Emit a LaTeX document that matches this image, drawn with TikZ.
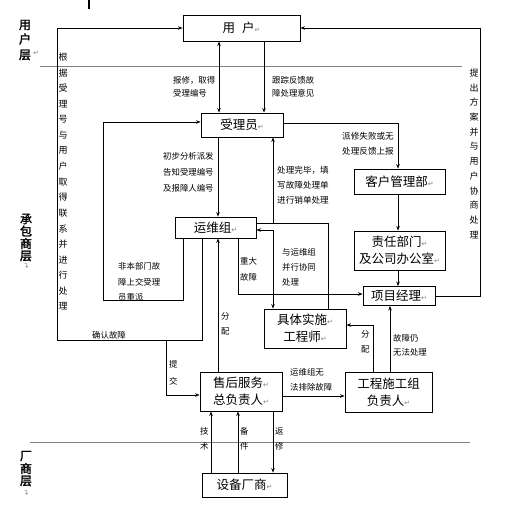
\documentclass[tikz,border=0pt]{standalone}
\usepackage{fontspec}
\setmainfont{Noto Sans CJK SC}[AutoFakeBold=2]
\newfontfamily\dvfont{DejaVu Sans}
\usetikzlibrary{arrows.meta}
\newcommand\pmk{{\dvfont\color{gray}\fontsize{7}{7}\selectfont ↵}}
\tikzset{
 box/.style={draw, line width=0.9pt, inner sep=0pt, font=\fontsize{12.5}{17}\selectfont, align=center},
 lbl/.style={inner sep=0pt, anchor=north west, align=left},
 conn/.style={line width=0.9pt, -{Stealth[length=4.5pt,width=3.5pt]}},
 connb/.style={line width=0.9pt, {Stealth[length=4.5pt,width=3.5pt]}-{Stealth[length=4.5pt,width=3.5pt]}},
 plainline/.style={line width=0.9pt},
 sepline/.style={gray, line width=0.9pt},
 vch/.style={inner sep=0pt, font=\fontsize{9}{9}\selectfont},
 layer/.style={inner sep=0pt, font=\bfseries\fontsize{12}{12}\selectfont},
 pmnode/.style={inner sep=0pt, text=gray, font=\dvfont\fontsize{7}{7}\selectfont},
}
\begin{document}
\begin{tikzpicture}[x=1pt,y=-1pt]
\useasboundingbox (0,0) rectangle (510,511);
% helper coordinates
\foreach \xx in {57,103,166,183,202,211,218,219,238,264,273,328,373,390,398,480}
  \coordinate (x\xx) at (\xx,0);
\foreach \yy in {122,123,223,230,294,300,325,340,395,396}
  \coordinate (y\yy) at (0,\yy);

% top tick and separator lines
\draw[line width=2pt] (89,0) -- (89,9);
\draw[sepline] (40,66) -- (462,66);
\draw[sepline] (30,442) -- (470,442);

% layer labels
\node[layer] (l1a) at (25,25) {用};
\node[layer] (l1b) at (25,39) {户};
\node[layer] (l1c) at (25,55) {层};
\node[pmnode] (l1d) at (36,53) {↵};
\node[layer] (l2a) at (26,219) {承};
\node[layer] (l2b) at (26,231) {包};
\node[layer] (l2c) at (26,243.5) {商};
\node[layer] (l2d) at (26,256) {层};
\node[pmnode, rotate=90] (l2e) at (27,266) {↵};
\node[layer] (l3a) at (26,456) {厂};
\node[layer] (l3b) at (26,468.5) {商};
\node[layer] (l3c) at (26,481) {层};
\node[pmnode, rotate=90] (l3d) at (27,493) {↵};

% boxes
\node[box, minimum width=117pt, minimum height=26pt] (yh) at (241.5,28) {用\hspace{7pt}户\pmk};
\node[box, minimum width=82pt, minimum height=24pt] (slr) at (242,125) {受理员\pmk};
\node[box, minimum width=91pt, minimum height=25pt] (khgl) at (399.5,181.5) {客户管理部\pmk};
\node[box, minimum width=91pt, minimum height=39pt] (zrbm) at (399.5,250.5) {责任部门\pmk\\及公司办公室\pmk};
\node[box, minimum width=81pt, minimum height=21pt] (ywz) at (215.5,227.5) {运维组\pmk};
\node[box, minimum width=72pt, minimum height=19pt] (xmjl) at (399,296) {项目经理\pmk};
\node[box, minimum width=82pt, minimum height=39pt] (jtss) at (305,328.5) {具体实施\pmk\\工程师\pmk};
\node[box, minimum width=82pt, minimum height=39pt] (shfw) at (241,391.5) {售后服务\pmk\\总负责人\pmk};
\node[box, minimum width=87pt, minimum height=40pt] (gcsg) at (388.5,392) {工程施工组\\负责人\pmk};
\node[box, minimum width=85pt, minimum height=24pt] (sbcs) at (244.5,485) {设备厂商\pmk};

% connectors
\draw[connb] (yh.south -| x219) -- (slr.north -| x219);
\draw[conn] (yh.south -| x264) -- (slr.north -| x264);
\draw[conn] (slr.south -| x218) -- (ywz.north -| x218);
\draw[conn] (slr.east |- y123) -| (khgl.north -| x398);
\draw[conn] (khgl.south -| x398) -- (zrbm.north -| x398);
\draw[conn] (zrbm.south -| x398) -- (xmjl.north -| x398);
\draw[conn] (xmjl.east) -| (x480 |- yh.east) -- (yh.east);
\draw[conn] (ywz.south -| x202) |- (x57 |- y340) |- (yh.west);
\draw[conn] (x166 |- y340) |- (shfw.west |- y395);
\draw[conn] (ywz.south -| x183) |- (x103 |- y300) |- (slr.west |- y122);
\draw[conn] (shfw.north -| x218) -- (ywz.south -| x218);
\draw[conn] (ywz.south -| x238) |- (xmjl.west |- y294);
\draw[connb] (ywz.east |- y230) -| (jtss.north -| x273);
\draw[plainline] (jtss.north -| x328) |- (ywz.east |- y223);
\draw[conn] (x273 |- y223) -- (slr.south -| x273);
\draw[conn] (gcsg.north -| x373) |- (jtss.east |- y325);
\draw[conn] (gcsg.north -| x390) -- (xmjl.south -| x390);
\draw[conn] (shfw.east |- y396) -- (gcsg.west |- y396);
\draw[conn] (sbcs.north -| x211) -- (shfw.south -| x211);
\draw[conn] (sbcs.north -| x238) -- (shfw.south -| x238);
\draw[conn] (shfw.south -| x273) -- (sbcs.north -| x273);

% labels
\node[lbl, font=\fontsize{8.4}{13}\selectfont] (t1) at (173,76.5) {报修，取得\\受理编号};
\node[lbl, font=\fontsize{8.4}{13}\selectfont] (t2) at (272,76.5) {跟踪反馈故\\障处理意见};
\node[lbl, font=\fontsize{8.4}{16}\selectfont] (t3) at (163,152.5) {初步分析派发\\告知受理编号\\及报障人编号};
\node[lbl, font=\fontsize{8.6}{15}\selectfont] (t4) at (342,132.5) {派修失败或无\\处理反馈上报};
\node[lbl, font=\fontsize{8.6}{15}\selectfont] (t5) at (277,165.5) {处理完毕，填\\写故障处理单\\进行销单处理};
\node[lbl, font=\fontsize{8.4}{15.5}\selectfont] (t6) at (118,262.5) {非本部门故\\障上交受理\\员重派};
\node[lbl, font=\fontsize{8.4}{16}\selectfont] (t7) at (240,257.5) {重大\\故障};
\node[lbl, font=\fontsize{8.4}{15}\selectfont] (t8) at (282,248.5) {与运维组\\并行协同\\处理};
\node[lbl, font=\fontsize{8.4}{15}\selectfont] (t9) at (92,331.5) {确认故障};
\node[lbl, font=\fontsize{8.4}{17}\selectfont] (t10) at (169,360.5) {提\\交};
\node[lbl, font=\fontsize{8.4}{15}\selectfont] (t11) at (221,312.5) {分\\配};
\node[lbl, font=\fontsize{8.4}{15}\selectfont] (t12) at (361,330.5) {分\\配};
\node[lbl, font=\fontsize{8.4}{14}\selectfont] (t13) at (393,334.5) {故障仍\\无法处理};
\node[lbl, font=\fontsize{8.4}{15}\selectfont] (t14) at (290,368.5) {运维组无\\法排除故障};
\node[lbl, font=\fontsize{8.4}{15}\selectfont] (t15) at (200,427.5) {技\\术};
\node[lbl, font=\fontsize{8.4}{15}\selectfont] (t16) at (240,427.5) {备\\件};
\node[lbl, font=\fontsize{8.4}{15}\selectfont] (t17) at (275,427.5) {返\\修};

% vertical texts
\foreach \c [count=\i from 0] in {根,据,受,理,号,与,用,户,取,得,联,系,并,进,行,处,理}
  \node[vch] (lv\i) at (63,{57+\i*15.6}) {\c};
\foreach \c [count=\i from 0] in {提,出,方,案,并,与,用,户,协,商,处,理}
  \node[vch] (rv\i) at (474,{73+\i*14.7}) {\c};
\end{tikzpicture}
\end{document}
